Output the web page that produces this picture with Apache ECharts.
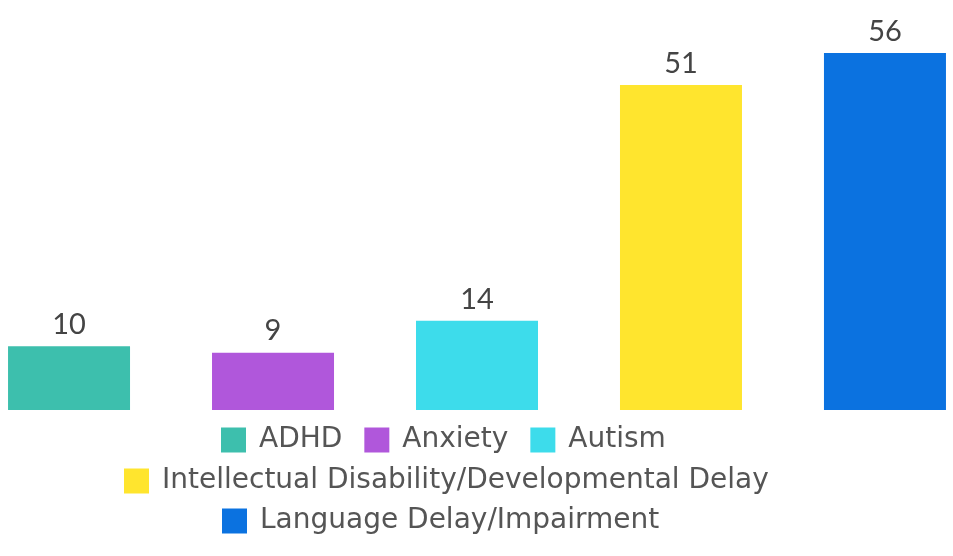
<!DOCTYPE html>
<html>
<head>
<meta charset="utf-8">
<script src="https://cdn.jsdelivr.net/npm/echarts@6/dist/echarts.min.js"></script>
<style>
  html, body { margin: 0; padding: 0; background: #fff; }
  #chart { width: 953px; height: 556px; }
</style>
</head>
<body>
<div id="chart"></div>
<script>
  var seriesNames = ['ADHD', 'Anxiety', 'Autism', 'Intellectual Disability/Developmental Delay', 'Language Delay/Impairment'];
  var seriesValues = [10, 9, 14, 51, 56];
  var seriesColors = ['#3dbfad', '#b057db', '#3ddceb', '#ffe52e', '#0b72e0'];
  // legend rows as they wrap in the picture
  var legendRows = [seriesNames.slice(0, 3), seriesNames.slice(3, 4), seriesNames.slice(4)];

  var myChart = echarts.init(document.getElementById('chart'));

  var series = seriesNames.map(function (name, i) {
    return {
      name: name,
      type: 'bar',
      data: [seriesValues[i]],
      barWidth: 122,
      barGap: '67.2%',
      itemStyle: { color: seriesColors[i] },
      label: {
        show: true,
        position: 'top',
        distance: 7,
        color: '#444',
        fontSize: 29,
        fontFamily: 'Lato'
      }
    };
  });

  var rowTops = [421, 462, 502];
  var rowLefts = [216, 119, 217];
  var legends = legendRows.map(function (row, r) {
    return {
      data: row,
      top: rowTops[r],
      left: rowLefts[r],
      itemWidth: 25,
      itemHeight: 25,
      itemGap: 22,
      icon: 'rect',
      textStyle: {
        color: '#555',
        fontSize: 28,
        lineHeight: 25,
        fontFamily: 'DejaVu Sans',
        padding: [0, 0, 0, 8]
      }
    };
  });

  myChart.setOption({
    animation: false,
    grid: { left: 8, right: 7, top: 53, bottom: 146 },
    legend: legends,
    xAxis: {
      type: 'category',
      data: [''],
      axisLine: { show: false },
      axisTick: { show: false },
      axisLabel: { show: false }
    },
    yAxis: {
      type: 'value',
      min: 0,
      max: 56,
      show: false,
      splitLine: { show: false }
    },
    series: series
  });
</script>
</body>
</html>
